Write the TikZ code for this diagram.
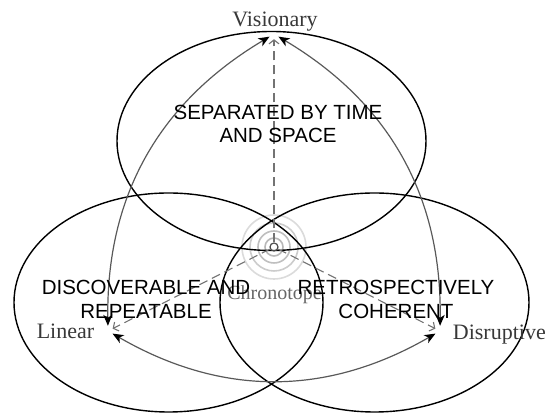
\documentclass[tikz,border=0pt]{standalone}
\usepackage{fontspec}
\setmainfont{Liberation Serif}
\setsansfont{Liberation Sans}
\usetikzlibrary{arrows.meta}
\begin{document}
\begin{tikzpicture}[x=1pt,y=1pt,
  setline/.style={draw=black, line width=1.4pt},
  vertex/.style={circle, inner sep=0pt, minimum size=10pt},
  vlabel/.style={font=\fontsize{22}{24}\selectfont, text=black!78, inner sep=0pt},
  setlabel/.style={font=\sffamily\fontsize{20.5}{23.4}\selectfont, align=center, inner sep=0pt},
  biarc/.style={draw=black!65, line width=1.2pt,
    {Stealth[length=11pt,width=9pt,inset=3pt,color=black]}-{Stealth[length=11pt,width=9pt,inset=3pt,color=black]}},
  dashline/.style={draw=black!55, line width=1.1pt, dash pattern=on 9pt off 5pt,
    -{Straight Barb[length=4pt,width=10pt]}}
]
\useasboundingbox (0,0) rectangle (550,414);
% concentric rings
\foreach \r/\c in {9/28, 16/25, 24/20, 32/14} {
  \draw[draw=black!\c, line width=1.6pt] (274,167) circle[radius=\r];
}
% ellipses
\draw[setline] (271.5,273) ellipse[x radius=154.5, y radius=109.5];
\draw[setline] (168.5,111.5) ellipse[x radius=154.5, y radius=109.5];
\draw[setline] (374.5,111.5) ellipse[x radius=154.5, y radius=109.5];
% nodes
\node[circle, draw=black!70, line width=1.2pt, minimum size=8pt, inner sep=0pt] (c) at (274,167) {};
\node[vertex] (v) at (274,380) {};
\node[vertex] (l) at (108,83) {};
\node[vertex] (d) at (440,83) {};
% dashed lines
\draw[dashline] (c) -- (v);
\draw[dashline] (c) -- (l);
\draw[dashline] (c) -- (d);
% reuleaux arcs
\draw[biarc] (v) to[bend right=30] (l);
\draw[biarc] (l) to[bend right=30] (d);
\draw[biarc] (d) to[bend right=30] (v);
% labels
\node[vlabel, anchor=base] (vis) at (275,387.3) {Visionary};
\node[vlabel, anchor=base] (lin) at (65.5,75.7) {Linear};
\node[vlabel, anchor=base west] (dis) at (452.7,74.7) {Disruptive};
\node[vlabel, anchor=base, font=\fontsize{20}{22}\selectfont, text=black!60] (chr) at (274.5,114) {Chronotope};
\node[setlabel] (sep) at (278,290.1) {SEPARATED BY TIME\\AND SPACE};
\node[setlabel] (disc) at (146,114.5) {DISCOVERABLE AND\\REPEATABLE};
\node[setlabel] (retro) at (396,114.5) {RETROSPECTIVELY\\COHERENT};
\end{tikzpicture}
\end{document}
